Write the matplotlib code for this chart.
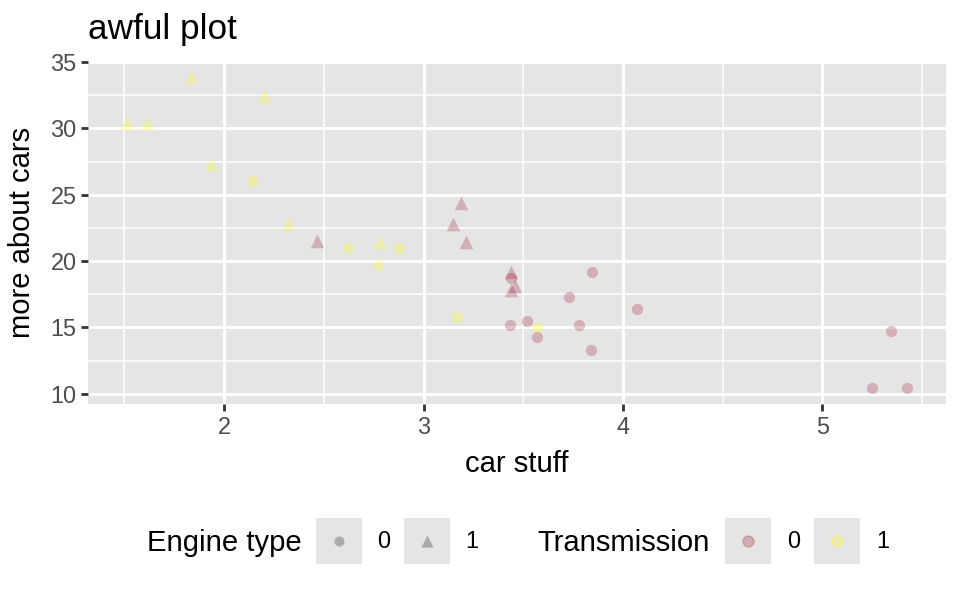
import matplotlib
matplotlib.use("Agg")
import matplotlib.pyplot as plt
from matplotlib.patches import Rectangle

plt.rcParams['font.family'] = ['Liberation Sans', 'DejaVu Sans']

# mtcars: weight, mpg, engine (vs), transmission (am)
wt = [2.620, 2.875, 2.320, 3.215, 3.440, 3.460, 3.570, 3.190, 3.150, 3.440,
      3.440, 4.070, 3.730, 3.780, 5.250, 5.424, 5.345, 2.200, 1.615, 1.835,
      2.465, 3.520, 3.435, 3.840, 3.845, 1.935, 2.140, 1.513, 3.170, 2.770,
      3.570, 2.780]
mpg = [21.0, 21.0, 22.8, 21.4, 18.7, 18.1, 14.3, 24.4, 22.8, 19.2,
       17.8, 16.4, 17.3, 15.2, 10.4, 10.4, 14.7, 32.4, 30.4, 33.9,
       21.5, 15.5, 15.2, 13.3, 19.2, 27.3, 26.0, 30.4, 15.8, 19.7,
       15.0, 21.4]
vs = [0, 0, 1, 1, 0, 1, 0, 1, 1, 1, 1, 0, 0, 0, 0, 0, 0, 1, 1, 1,
      1, 0, 0, 0, 0, 1, 0, 1, 0, 0, 0, 1]
am = [1, 1, 1, 0, 0, 0, 0, 0, 0, 0, 0, 0, 0, 0, 0, 0, 0, 1, 1, 1,
      0, 0, 0, 0, 0, 1, 1, 1, 1, 1, 1, 1]

x_ticks = [2, 3, 4, 5]
y_ticks = [10, 15, 20, 25, 30, 35]

shapes = {0: 'o', 1: '^'}
sizes = {0: 66, 1: 95}
colors = {0: '#9A0E22', 1: '#FFFF00'}
alpha = 0.25

W, H = 960, 593
fig = plt.figure(figsize=(W / 100, H / 100), dpi=100)
L, R, T, B = 88, 946, 61, 404
ax = fig.add_axes([L / W, 1 - B / H, (R - L) / W, (B - T) / H])
ax.set_facecolor('#E5E5E5')

for i in range(len(wt)):
    ax.scatter(wt[i], mpg[i], marker=shapes[vs[i]], s=sizes[vs[i]],
               color=colors[am[i]], alpha=alpha, linewidths=0, zorder=3)

xr = max(wt) - min(wt)
yr = max(mpg) - min(mpg)
ax.set_xlim(min(wt) - 0.05 * xr, max(wt) + 0.05 * xr)
ax.set_ylim(min(mpg) - 0.05 * yr, max(mpg) + 0.05 * yr)
ax.set_xticks(x_ticks)
ax.set_yticks(y_ticks)
ax.set_xticks([1.5, 2.5, 3.5, 4.5, 5.5], minor=True)
ax.set_yticks([12.5, 17.5, 22.5, 27.5, 32.5], minor=True)
ax.grid(which='major', color='white', linewidth=2.2)
ax.grid(which='minor', color='white', linewidth=1.1)
ax.set_axisbelow(True)
for s in ax.spines.values():
    s.set_visible(False)
ax.tick_params(which='major', length=5.3, width=2.0, color='#333333',
               labelsize=16.9, labelcolor='#4D4D4D', pad=3)
ax.tick_params(which='minor', length=0)

ax.set_xlabel('car stuff', fontsize=21.1, labelpad=8)
ax.set_ylabel('more about cars', fontsize=21.1, labelpad=10)
fig.text(L / W, 1 - 30 / H, 'awful plot', fontsize=25.3, ha='left', va='center')

# legend drawn in pixel coordinates
lg = fig.add_axes([0, 0, 1, 1])
lg.set_xlim(0, W)
lg.set_ylim(H, 0)
lg.axis('off')
cy = 541
lg.text(147, cy + 2, 'Engine type', fontsize=21.1, va='center', ha='left')
lg.text(537, cy + 2, 'Transmission', fontsize=21.1, va='center', ha='left')
key_x = [316, 404]
for k, x0 in enumerate(key_x):
    lg.add_patch(Rectangle((x0, cy - 23), 46, 46, color='#E5E5E5', linewidth=0))
    lg.scatter(x0 + 23, cy, marker=shapes[k], s=sizes[k] * 0.8, color='black',
               alpha=alpha, linewidths=0)
    lg.text(x0 + 61, cy + 1, str(k), fontsize=16.9, va='center', ha='left')
key_x = [725, 814]
for k, x0 in enumerate(key_x):
    lg.add_patch(Rectangle((x0, cy - 23), 46, 46, color='#E5E5E5', linewidth=0))
    lg.scatter(x0 + 23, cy, marker='o', s=sizes[0] * 0.9, color=colors[k],
               alpha=alpha, linewidths=1.2)
    lg.text(x0 + 62, cy + 1, str(k), fontsize=16.9, va='center', ha='left')

fig.savefig('out.png', dpi=100)
